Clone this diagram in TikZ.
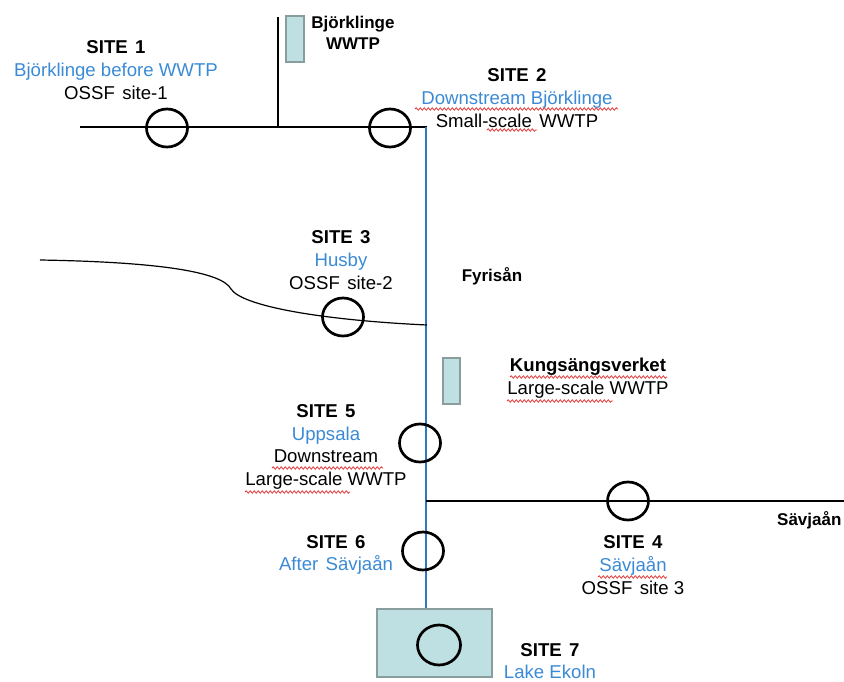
\documentclass[tikz,border=0pt]{standalone}
\usepackage{fontspec}
\setmainfont{Liberation Sans}
\usetikzlibrary{shapes.geometric,decorations.pathmorphing}
\definecolor{txtblue}{HTML}{3A8AD6}
\definecolor{riverblue}{HTML}{2E78BE}
\definecolor{wavered}{HTML}{E23B3B}
\definecolor{tealfill}{HTML}{BEE0E3}
\definecolor{tealedge}{HTML}{8A9D9D}
\newcommand\gap{\hspace{0.4em}}
\tikzset{
  lbl/.style={align=center, inner sep=0pt, font=\fontsize{18.6}{22.7}\selectfont},
  boldlbl/.style={align=center, inner sep=0pt, font=\fontsize{17}{20.5}\selectfont\bfseries},
  sitering/.style={draw=black, ellipse, line width=2.7pt, minimum width=41pt, minimum height=38pt, inner sep=0pt},
  plant/.style={draw=tealedge, fill=tealfill, line width=1.6pt, inner sep=0pt},
  stream/.style={draw=black, line width=1.4pt},
  river/.style={draw=riverblue, line width=1.4pt},
  spell/.style={draw=wavered, line width=0.8pt, decorate, decoration={snake, segment length=4pt, amplitude=1.2pt}}
}
\begin{document}
\begin{tikzpicture}[x=1pt,y=-1pt]
\useasboundingbox (0,0) rectangle (844,681);

% coordinates of the stream network
\coordinate (t0) at (80,127);
\coordinate (j1) at (278,127);
\coordinate (jtop) at (278,17);
\coordinate (t1) at (427,127);
\coordinate (rtop) at (426,127);
\coordinate (c0) at (40,260);
\coordinate (cj) at (427,325);
\coordinate (sj) at (426,501);
\coordinate (se) at (846,501);

% plants and lake
\node[plant, minimum width=18pt, minimum height=46pt] (wwtp1) at (295,39) {};
\node[plant, minimum width=17pt, minimum height=46pt] (kung) at (451.5,381) {};
\node[plant, minimum width=115pt, minimum height=68pt] (lake) at (434.5,643) {};

% streams
\draw[stream] (t0) -- (t1);
\draw[stream] (j1) -- (jtop);
\draw[river] (rtop) -- (rtop |- lake.north);
\draw[stream, line width=1.2pt] (c0) .. controls (160,262) and (222,272) .. (231,289)
   .. controls (242,306) and (320,320) .. (cj);
\draw[stream] (sj) -- (se);

% sampling sites
\node[sitering] (c1) at (167,128) {};
\node[sitering] (c2) at (390,128) {};
\node[sitering] (c3) at (343,317) {};
\node[sitering] (c5) at (420,443) {};
\node[sitering] (c4) at (628,501) {};
\node[sitering] (c6) at (423,551) {};
\node[sitering, minimum width=43pt, minimum height=40pt] (c7) at (439,645) {};

% labels
\node[lbl] (l1) at (116,70) {\textbf{SITE\gap 1}\\ \textcolor{txtblue}{Björklinge before WWTP}\\ OSSF\gap site-1};
\node[boldlbl] (lw1) at (353,33) {Björklinge\\ WWTP};
\node[lbl] (l2) at (517,98) {\textbf{SITE\gap 2}\\ \textcolor{txtblue}{Downstream Björklinge}\\ Small-scale\gap WWTP};
\node[lbl] (l3) at (341,260) {\textbf{SITE\gap 3}\\ \textcolor{txtblue}{Husby}\\ OSSF\gap site-2};
\node[boldlbl] (fy) at (492,276) {Fyrisån};
\node[lbl] (lk) at (588,378) {\textbf{Kungsängsverket}\\ Large-scale WWTP};
\node[lbl] (l5) at (326,447) {\textbf{SITE\gap 5}\\ \textcolor{txtblue}{Uppsala}\\ Downstream\\ Large-scale WWTP};
\node[boldlbl, anchor=west] (sv) at (777,520) {Sävjaån};
\node[lbl] (l4) at (633,565) {\textbf{SITE\gap 4}\\ \textcolor{txtblue}{Sävjaån}\\ OSSF\gap site 3};
\node[lbl] (l6) at (336,555) {\textbf{SITE\gap 6}\\ \textcolor{txtblue}{After\gap Sävjaån}};
\node[lbl] (l7) at (550,661) {\textbf{SITE\gap 7}\\ \textcolor{txtblue}{Lake Ekoln}};

% spell-check underlines
\draw[spell] (415,109) -- (618,109);
\draw[spell] (487,130) -- (537,130);
\draw[spell] (510,377) -- (667,377);
\draw[spell] (507,401) -- (613,401);
\draw[spell] (272,468) -- (383,468);
\draw[spell] (245,492) -- (350,492);
\draw[spell] (598,577) -- (667,577);
\end{tikzpicture}
\end{document}
